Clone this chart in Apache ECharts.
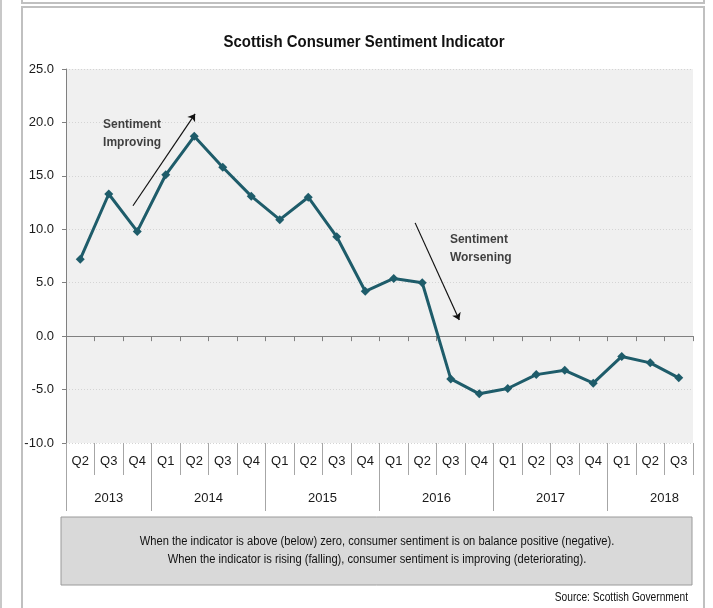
<!DOCTYPE html>
<html>
<head>
<meta charset="utf-8">
<script src="https://cdn.jsdelivr.net/npm/echarts@6/dist/echarts.min.js"></script>
<style>
  html, body { margin: 0; padding: 0; background: #fff; }
  #chart { width: 713px; height: 608px; }
</style>
</head>
<body>
<div id="chart"></div>
<script>
// quarterly index, 2013 Q2 .. 2018 Q3
var quarters = ['Q2', 'Q3', 'Q4',
  'Q1', 'Q2', 'Q3', 'Q4',
  'Q1', 'Q2', 'Q3', 'Q4',
  'Q1', 'Q2', 'Q3', 'Q4',
  'Q1', 'Q2', 'Q3', 'Q4',
  'Q1', 'Q2', 'Q3'];
var sentiment = [7.2, 13.3, 9.8,
  15.1, 18.7, 15.8, 13.1,
  10.9, 13.0, 9.3, 4.2,
  5.4, 5.0, -4.0, -5.4,
  -4.9, -3.6, -3.2, -4.4,
  -1.9, -2.5, -3.9];
var years = ['2013', '2014', '2015', '2016', '2017', '2018'];
var yearBounds = [0, 3, 7, 11, 15, 19];        // group separators, in quarter units
var yearCentres = [1.5, 5, 9, 13, 17, 21];     // where the year labels sit

// annotation arrows [start, end] in (quarter units, index value)
var arrowImproving = [[2.35, 12.2], [4.53, 20.8]];
var arrowWorsening = [[12.25, 10.6], [13.8, 1.5]];
var notes = [
  { text: 'Sentiment\nImproving', at: [1.3, 18.9] },
  { text: 'Sentiment\nWorsening', at: [13.47, 8.2] }
];

var sans = "'Liberation Sans', Arial, sans-serif";

var chart = echarts.init(document.getElementById('chart'));

var option = {
  animation: false,
  backgroundColor: '#fff',
  grid: {
    left: 66, right: 20, top: 69, bottom: 165,
    show: true, backgroundColor: '#f0f0f0', borderWidth: 0
  },
  xAxis: [
    {
      // quarter labels under the plot
      type: 'category',
      data: quarters,
      position: 'bottom',
      axisLine: { show: false, onZero: false },
      axisTick: { show: true, interval: 0, length: 32, lineStyle: { color: '#a6a6a6' } },
      axisLabel: { interval: 0, margin: 12, fontSize: 13, color: '#1a1a1a', fontFamily: sans },
      splitLine: { show: false }
    },
    {
      // year groups
      type: 'value',
      min: 0, max: 22,
      position: 'bottom',
      axisLine: { show: false, onZero: false },
      axisTick: { show: true, customValues: yearBounds, length: 68, lineStyle: { color: '#a6a6a6' } },
      axisLabel: {
        customValues: yearCentres, margin: 49, fontSize: 13, color: '#1a1a1a', fontFamily: sans,
        formatter: function (v) { return years[yearCentres.indexOf(v)]; }
      },
      splitLine: { show: false }
    },
    {
      // zero line with small ticks
      type: 'category',
      data: quarters,
      position: 'bottom',
      axisLine: { show: true, onZero: true, lineStyle: { color: '#808080', width: 1 } },
      axisTick: { show: true, interval: 0, length: 5, lineStyle: { color: '#808080' } },
      axisLabel: { show: false },
      splitLine: { show: false }
    }
  ],
  yAxis: {
    type: 'value',
    min: -10, max: 25, interval: 5,
    axisLine: { show: true, lineStyle: { color: '#808080' } },
    axisTick: { show: true, length: 4, lineStyle: { color: '#808080' } },
    axisLabel: {
      margin: 12, fontSize: 13, color: '#1a1a1a', fontFamily: sans,
      formatter: function (v) { return v.toFixed(1); }
    },
    splitLine: { show: true, lineStyle: { color: '#d4d4d4', type: [1, 2] } }
  },
  series: [
    {
      name: 'Scottish Consumer Sentiment Indicator',
      type: 'line',
      xAxisIndex: 0,
      data: sentiment,
      symbol: 'diamond',
      symbolSize: 9,
      lineStyle: { color: '#1e5c6a', width: 3 },
      itemStyle: { color: '#1e5c6a' },
      z: 5
    },
    {
      type: 'lines',
      coordinateSystem: 'cartesian2d',
      xAxisIndex: 1,
      yAxisIndex: 0,
      symbol: ['none', 'arrow'],
      symbolSize: 7,
      lineStyle: { color: '#111', width: 1.2, opacity: 1 },
      data: [{ coords: arrowImproving }, { coords: arrowWorsening }],
      z: 4
    },
    {
      type: 'scatter',
      xAxisIndex: 1,
      yAxisIndex: 0,
      symbolSize: 0,
      data: notes.map(function (n) { return { value: n.at, name: n.text }; }),
      label: {
        show: true, position: 'right', distance: 0, align: 'left',
        formatter: function (p) { return p.name; },
        fontFamily: sans, fontWeight: 'bold', fontSize: 12, lineHeight: 18, color: '#111'
      },
      silent: true
    }
  ],
  graphic: [
    // panel frames
    { type: 'rect', shape: { x: 22, y: -20, width: 682, height: 23 },
      style: { fill: 'none', stroke: '#c0c0c0', lineWidth: 2 }, silent: true },
    { type: 'rect', shape: { x: 22, y: 7, width: 682, height: 620 },
      style: { fill: 'none', stroke: '#c0c0c0', lineWidth: 2 }, silent: true },
    { type: 'line', shape: { x1: 1, y1: 0, x2: 1, y2: 608 },
      style: { stroke: '#c8c8c8', lineWidth: 2 }, silent: true },
    // title (condensed look)
    { type: 'text', x: 364, y: 42, scaleX: 0.88,
      style: { text: 'Scottish Consumer Sentiment Indicator', fill: '#111',
        font: "bold 17px " + sans, textAlign: 'center', textVerticalAlign: 'middle' } },
    // explanatory box
    { type: 'rect', shape: { x: 61, y: 517, width: 631, height: 68 },
      style: { fill: '#d9d9d9', stroke: '#9a9a9a', lineWidth: 1 } },
    { type: 'text', x: 377, y: 542, scaleX: 0.93,
      style: { text: 'When the indicator is above (below) zero, consumer sentiment is on balance positive (negative).',
        fill: '#111', font: "12px " + sans, textAlign: 'center', textVerticalAlign: 'middle' } },
    { type: 'text', x: 377, y: 560, scaleX: 0.93,
      style: { text: 'When the indicator is rising (falling), consumer sentiment is improving (deteriorating).',
        fill: '#111', font: "12px " + sans, textAlign: 'center', textVerticalAlign: 'middle' } },
    { type: 'text', x: 688, y: 598, scaleX: 0.85,
      style: { text: 'Source: Scottish Government', fill: '#111',
        font: "12px " + sans, textAlign: 'right', textVerticalAlign: 'middle' } }
  ]
};

chart.setOption(option);
</script>
</body>
</html>
